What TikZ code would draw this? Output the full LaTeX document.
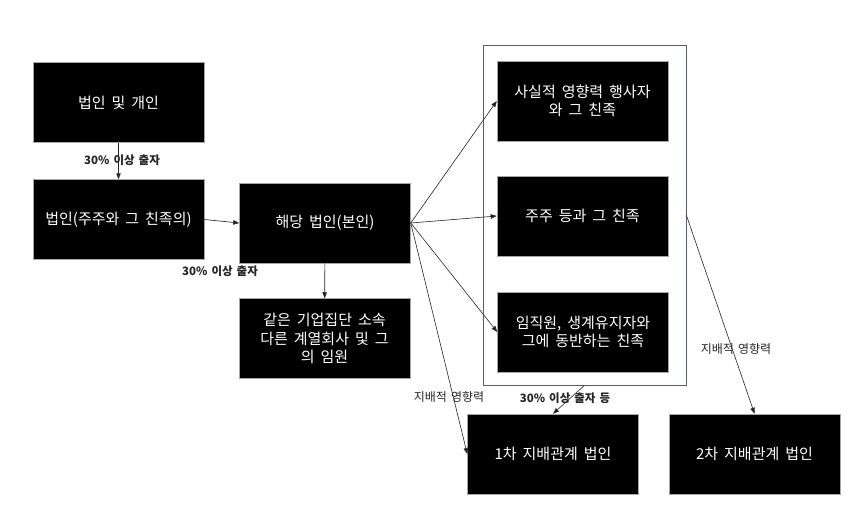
\documentclass[tikz,border=0pt]{standalone}
\usepackage{fontspec}
\setmainfont{Noto Sans CJK KR}
\usetikzlibrary{arrows.meta}
\definecolor{framecol}{RGB}{85,95,115}
\newcommand\myboxfont{\fontsize{15}{18.5}\selectfont\spaceskip 0.4em\relax}
\newcommand\mylabfont{\fontsize{11.5}{13}\selectfont\bfseries\spaceskip 0.35em\relax}
\newcommand\mylabrfont{\fontsize{12}{13}\selectfont\spaceskip 0.35em\relax}
\tikzset{
  blackbox/.style={fill=black, draw=gray!70, line width=0.5pt, minimum width=171pt, minimum height=80pt, text=white, font=\myboxfont, align=center, inner sep=0pt},
  conn/.style={draw=black!85, line width=0.6pt, -{Triangle[length=6pt,width=4.5pt]}},
  lab/.style={font=\mylabfont, text=black!85, inner sep=0pt},
  labr/.style={font=\mylabrfont, text=black!85, inner sep=0pt}
}
\begin{document}
\begin{tikzpicture}[x=1pt,y=-1pt]
\useasboundingbox[fill=white] (0,0) rectangle (850,513);
\node[draw=framecol, line width=0.6pt, minimum width=203pt, minimum height=340pt, inner sep=0pt] (frame) at (584.5,215) {};
\node[blackbox] (A) at (118.5,102.5) {법인 및 개인};
\node[blackbox] (B) at (118.5,219.5) {법인(주주와 그 친족의)};
\node[blackbox] (C) at (325,223) {해당 법인(본인)};
\node[blackbox] (G) at (324.5,338.5) {같은 기업집단 소속\\다른 계열회사 및 그\\의 임원};
\node[blackbox] (D) at (582.5,101) {사실적 영향력 행사자\\와 그 친족};
\node[blackbox] (E) at (582.5,216) {주주 등과 그 친족};
\node[blackbox] (F) at (583,332) {임직원, 생계유지자와\\그에 동반하는 친족};
\node[blackbox] (H) at (553,454) {1차 지배관계 법인};
\node[blackbox] (I) at (754.5,454) {2차 지배관계 법인};
\draw[conn] (A) -- (B);
\draw[conn] (B.east) -- (C.west);
\draw[conn] (C) -- (G);
\draw[conn] (C.east) -- (D.west);
\draw[conn] (C.east) -- (E.west);
\draw[conn] (C.east) -- (F.west);
\draw[conn] (C.east) -- (H.west);
\draw[conn] (frame.south) -- (H.north);
\draw[conn] (frame.east) -- (I.north);
\node[lab] (l1) at (122,160) {30\% 이상 출자};
\node[lab] (l2) at (220,271) {30\% 이상 출자};
\node[labr] (l3) at (449,397) {지배적 영향력};
\node[lab] (l4) at (565,398) {30\% 이상 출자 등};
\node[labr] (l5) at (736,349) {지배적 영향력};
\end{tikzpicture}
\end{document}
